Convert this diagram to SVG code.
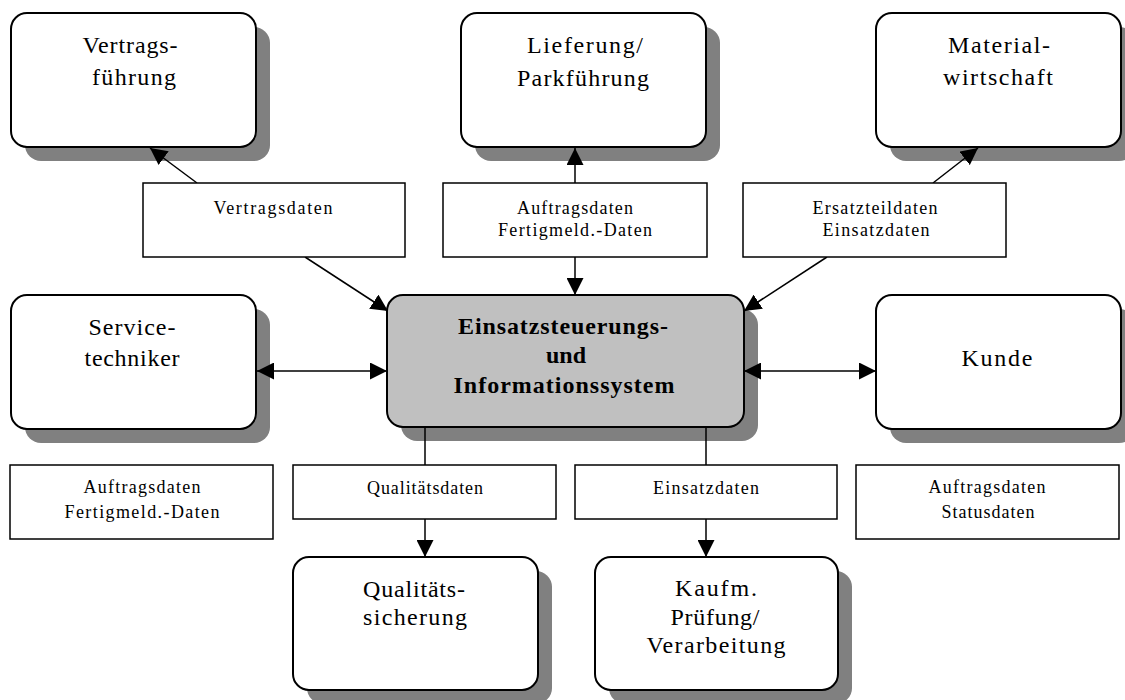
<svg xmlns="http://www.w3.org/2000/svg" width="1125" height="700" viewBox="0 0 1125 700">
<style>
.bg{fill:#fff}
.shadow{fill:#808080}
.node{fill:#fff;stroke:#000;stroke-width:2}
.center{fill:#c0c0c0;stroke:#000;stroke-width:2}
.label{fill:#fff;stroke:#000;stroke-width:1.5}
.conn{stroke:#000;stroke-width:1.5;fill:none}
.nt{font-family:"Liberation Serif","Times New Roman",serif;font-size:24px;fill:#000;text-anchor:middle}
.bt{font-family:"Liberation Serif","Times New Roman",serif;font-size:24px;font-weight:bold;fill:#000;text-anchor:middle}
.lt{font-family:"Liberation Serif","Times New Roman",serif;font-size:18px;fill:#000;text-anchor:middle}
</style>
<defs>
<marker id="arr" markerUnits="userSpaceOnUse" viewBox="0 0 17 17" refX="17" refY="8.5" markerWidth="17" markerHeight="17" orient="auto-start-reverse">
<path d="M0,0 L17,8.5 L0,17 z" fill="#000"/>
</marker>
</defs>
<rect class="bg" x="0" y="0" width="1125" height="700"/>
<g id="shadows">
<rect class="shadow" x="25" y="27" width="245" height="134" rx="16"/>
<rect class="shadow" x="475" y="27" width="245" height="134" rx="16"/>
<rect class="shadow" x="890" y="27" width="245" height="134" rx="16"/>
<rect class="shadow" x="25" y="309" width="245" height="134" rx="16"/>
<rect class="shadow" x="401" y="309" width="357" height="132" rx="16"/>
<rect class="shadow" x="890" y="309" width="245" height="134" rx="16"/>
<rect class="shadow" x="307" y="571" width="245" height="133" rx="16"/>
<rect class="shadow" x="609" y="571" width="243" height="133" rx="16"/>
</g>
<g id="connectors">
<line class="conn" x1="197" y1="183" x2="150" y2="148" marker-end="url(#arr)"/>
<line class="conn" x1="305" y1="257" x2="388" y2="311" marker-end="url(#arr)"/>
<line class="conn" x1="575" y1="183" x2="575" y2="148" marker-end="url(#arr)"/>
<line class="conn" x1="575" y1="257" x2="575" y2="295" marker-end="url(#arr)"/>
<line class="conn" x1="933" y1="183" x2="978" y2="148" marker-end="url(#arr)"/>
<line class="conn" x1="827" y1="257" x2="744" y2="311" marker-end="url(#arr)"/>
<line class="conn" x1="257" y1="371" x2="387" y2="371" marker-start="url(#arr)" marker-end="url(#arr)"/>
<line class="conn" x1="744" y1="371" x2="876" y2="371" marker-start="url(#arr)" marker-end="url(#arr)"/>
<line class="conn" x1="425" y1="427" x2="425" y2="465"/>
<line class="conn" x1="425" y1="519" x2="425" y2="557" marker-end="url(#arr)"/>
<line class="conn" x1="706" y1="427" x2="706" y2="465"/>
<line class="conn" x1="706" y1="519" x2="706" y2="557" marker-end="url(#arr)"/>
</g>
<g id="vertragsfuehrung">
<rect class="node" x="11" y="13" width="245" height="134" rx="16"/>
<text class="nt" x="130" y="53" textLength="95" lengthAdjust="spacing">Vertrags-</text>
<text class="nt" x="134" y="85" textLength="84" lengthAdjust="spacing">führung</text>
</g>
<g id="lieferung">
<rect class="node" x="461" y="13" width="245" height="134" rx="16"/>
<text class="nt" x="585" y="53" textLength="116" lengthAdjust="spacing">Lieferung/</text>
<text class="nt" x="583" y="86" textLength="132" lengthAdjust="spacing">Parkführung</text>
</g>
<g id="materialwirtschaft">
<rect class="node" x="876" y="13" width="245" height="134" rx="16"/>
<text class="nt" x="999" y="53" textLength="102" lengthAdjust="spacing">Material-</text>
<text class="nt" x="998" y="85" textLength="110" lengthAdjust="spacing">wirtschaft</text>
</g>
<g id="servicetechniker">
<rect class="node" x="11" y="295" width="245" height="134" rx="16"/>
<text class="nt" x="132" y="335" textLength="87" lengthAdjust="spacing">Service-</text>
<text class="nt" x="132" y="366" textLength="95" lengthAdjust="spacing">techniker</text>
</g>
<g id="einsatzsteuerung">
<rect class="center" x="387" y="295" width="357" height="132" rx="16"/>
<text class="bt" x="563" y="334" textLength="210" lengthAdjust="spacing">Einsatzsteuerungs-</text>
<text class="bt" x="566" y="363">und</text>
<text class="bt" x="564" y="393" textLength="221" lengthAdjust="spacing">Informationssystem</text>
</g>
<g id="kunde">
<rect class="node" x="876" y="295" width="245" height="134" rx="16"/>
<text class="nt" x="997" y="366" textLength="71" lengthAdjust="spacing">Kunde</text>
</g>
<g id="qualitaetssicherung">
<rect class="node" x="293" y="557" width="245" height="133" rx="16"/>
<text class="nt" x="414" y="597" textLength="102" lengthAdjust="spacing">Qualitäts-</text>
<text class="nt" x="415" y="625" textLength="104" lengthAdjust="spacing">sicherung</text>
</g>
<g id="kaufm">
<rect class="node" x="595" y="557" width="243" height="133" rx="16"/>
<text class="nt" x="716" y="596" textLength="82" lengthAdjust="spacing">Kaufm.</text>
<text class="nt" x="715" y="625" textLength="89" lengthAdjust="spacing">Prüfung/</text>
<text class="nt" x="716" y="653" textLength="139" lengthAdjust="spacing">Verarbeitung</text>
</g>
<g id="label-vertragsdaten">
<rect class="label" x="143" y="183" width="262" height="74"/>
<text class="lt" x="273" y="214" textLength="119" lengthAdjust="spacing">Vertragsdaten</text>
</g>
<g id="label-auftrag-mitte">
<rect class="label" x="443" y="183" width="264" height="74"/>
<text class="lt" x="575" y="214" textLength="116" lengthAdjust="spacing">Auftragsdaten</text>
<text class="lt" x="575" y="236" textLength="154" lengthAdjust="spacing">Fertigmeld.-Daten</text>
</g>
<g id="label-ersatzteil">
<rect class="label" x="743" y="183" width="263" height="74"/>
<text class="lt" x="875" y="214" textLength="125" lengthAdjust="spacing">Ersatzteildaten</text>
<text class="lt" x="876" y="236" textLength="107" lengthAdjust="spacing">Einsatzdaten</text>
</g>
<g id="label-auftrag-links">
<rect class="label" x="10" y="465" width="263" height="74"/>
<text class="lt" x="142" y="493" textLength="117" lengthAdjust="spacing">Auftragsdaten</text>
<text class="lt" x="142" y="518" textLength="155" lengthAdjust="spacing">Fertigmeld.-Daten</text>
</g>
<g id="label-qualitaetsdaten">
<rect class="label" x="293" y="465" width="263" height="54"/>
<text class="lt" x="425" y="494" textLength="116" lengthAdjust="spacing">Qualitätsdaten</text>
</g>
<g id="label-einsatzdaten">
<rect class="label" x="575" y="465" width="262" height="54"/>
<text class="lt" x="706" y="494" textLength="106" lengthAdjust="spacing">Einsatzdaten</text>
</g>
<g id="label-auftrag-rechts">
<rect class="label" x="856" y="465" width="263" height="74"/>
<text class="lt" x="987" y="493" textLength="117" lengthAdjust="spacing">Auftragsdaten</text>
<text class="lt" x="988" y="518" textLength="93" lengthAdjust="spacing">Statusdaten</text>
</g>
</svg>
